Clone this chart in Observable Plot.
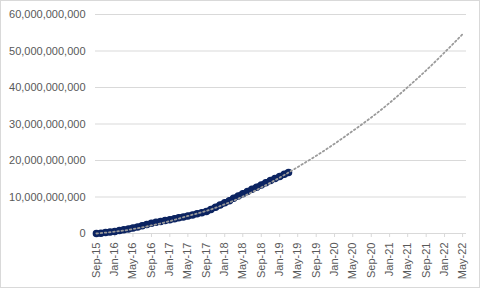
<!DOCTYPE html>
<html>
<head>
<meta charset="utf-8">
<script src="https://cdn.jsdelivr.net/npm/d3@7"></script>
<script src="https://cdn.jsdelivr.net/npm/@observablehq/plot@0.6"></script>
<style>
  body { margin: 0; background: #fff; }
  #chart svg { display: block; outline: 1px solid #d9d9d9; outline-offset: -1px; }
</style>
</head>
<body>
<div id="chart"></div>
<script>
// Actual series (monthly, billions)
const actualMonths = [
  "2015-09","2015-10","2015-11","2015-12","2016-01","2016-02","2016-03","2016-04",
  "2016-05","2016-06","2016-07","2016-08","2016-09","2016-10","2016-11","2016-12",
  "2017-01","2017-02","2017-03","2017-04","2017-05","2017-06","2017-07","2017-08",
  "2017-09","2017-10","2017-11","2017-12","2018-01","2018-02","2018-03","2018-04",
  "2018-05","2018-06","2018-07","2018-08","2018-09","2018-10","2018-11","2018-12",
  "2019-01","2019-02","2019-03"
];
const actualValues = [
  0.0, 0.1, 0.25, 0.4, 0.55, 0.8, 1.0, 1.25,
  1.5, 1.8, 2.1, 2.5, 2.8, 3.05, 3.3, 3.55,
  3.8, 4.05, 4.3, 4.55, 4.8, 5.1, 5.4, 5.7,
  6.0, 6.6, 7.2, 7.8, 8.4, 9.0, 9.65, 10.3,
  10.9, 11.5, 12.1, 12.7, 13.3, 13.9, 14.5, 15.05,
  15.6, 16.2, 16.7
];
// Trend line (dotted), every 4 months, billions
const trendMonths = [
  "2015-09","2016-01","2016-05","2016-09","2017-01","2017-05","2017-09","2018-01",
  "2018-05","2018-09","2019-01","2019-05","2019-09","2020-01","2020-05","2020-09",
  "2021-01","2021-05","2021-09","2022-01","2022-05"
];
const trendValues = [
  0.0, 0.5, 1.2, 2.2, 3.4, 4.8, 6.2, 8.0,
  10.1, 12.6, 15.3, 18.2, 21.3, 24.6, 28.1, 31.8,
  35.8, 40.1, 44.7, 49.6, 54.6
];
const yTicks = [0, 10e9, 20e9, 30e9, 40e9, 50e9, 60e9];
const xTickMonths = trendMonths;

const parse = d3.utcParse("%Y-%m");
const actual = actualMonths.map((m, i) => ({date: parse(m), value: actualValues[i] * 1e9}));
const trend = trendMonths.map((m, i) => ({date: parse(m), value: trendValues[i] * 1e9}));
const xTicks = xTickMonths.map(parse);

const navy = "#0c2461";
const plot = Plot.plot({
  width: 480,
  height: 288,
  marginLeft: 95,
  marginRight: 14,
  marginTop: 14,
  marginBottom: 55,
  style: {fontFamily: "'Liberation Sans', Arial, sans-serif", fontSize: "11px", color: "#595959", background: "#fff"},
  x: {type: "utc", domain: [new Date(Date.UTC(2015, 7, 26)), new Date(Date.UTC(2022, 4, 27))], label: null},
  y: {domain: [0, 60e9], label: null},
  marks: [
    Plot.gridY(yTicks, {stroke: "#d9d9d9", strokeOpacity: 1}),
    Plot.ruleY([0], {stroke: "#d9d9d9"}),
    Plot.axisY(yTicks, {label: null, tickSize: 0, tickPadding: 10, tickFormat: d => d === 0 ? "0" : d3.format(",")(d), fill: "#595959"}),
    Plot.axisX(xTicks, {label: null, tickSize: 4, tickPadding: 5, tickRotate: -90, tickFormat: d3.utcFormat("%b-%y"), stroke: "#d9d9d9", fill: "#595959"}),
    Plot.line(actual, {x: "date", y: "value", stroke: navy, strokeWidth: 6, strokeLinecap: "round", curve: "monotone-x"}),
    Plot.dot(actual, {x: "date", y: "value", r: 3, fill: navy, stroke: navy}),
    Plot.line(trend, {x: "date", y: "value", stroke: "#9a9a9a", strokeWidth: 1.8, strokeDasharray: "1.6 2.6", curve: "natural"})
  ]
});
document.getElementById("chart").appendChild(plot);
</script>
</body>
</html>
